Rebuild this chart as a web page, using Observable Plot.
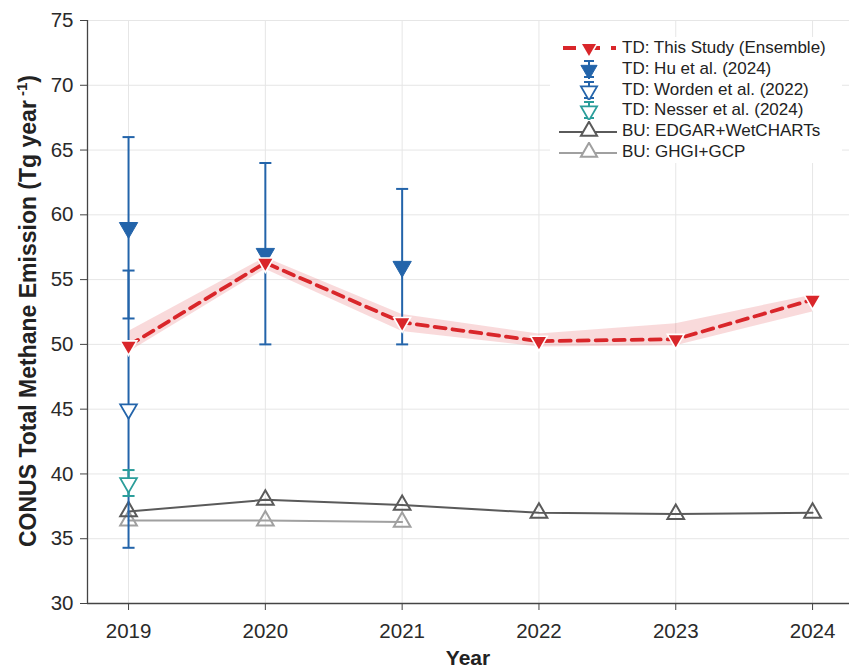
<!DOCTYPE html>
<html>
<head>
<meta charset="utf-8">
<script src="https://cdn.jsdelivr.net/npm/d3@7"></script>
<script src="https://cdn.jsdelivr.net/npm/@observablehq/plot@0.6"></script>
<style>
  body { margin: 0; background: #fff; font-family: "Liberation Sans", Arial, sans-serif; }
  #wrap { position: relative; width: 849px; height: 670px; }
  #legend { position: absolute; left: 550px; top: 37px; width: 292px; background: #fff; padding: 1px 0; }
  .row { display: flex; align-items: center; height: 20.7px; font-size: 17px; color: #222; white-space: nowrap; }
  .row svg { flex: none; margin-right: 0; }
</style>
</head>
<body>
<div id="wrap"><div id="legend"></div></div>
<script>
// ---- data ----
const years = [2019, 2020, 2021, 2022, 2023, 2024];
const tdValues = [49.9, 56.3, 51.7, 50.25, 50.4, 53.45];
const tdLow = [49.4, 55.8, 51.0, 49.8, 49.9, 52.5];
const tdHigh = [51.0, 56.7, 52.3, 50.8, 51.6, 53.8];

const huYears = [2019, 2020, 2021];
const huValues = [59, 57, 56];
const huLow = [52, 50, 50];
const huHigh = [66, 64, 62];

const wordenYears = [2019];
const wordenValues = [45];
const wordenLow = [34.3];
const wordenHigh = [55.7];

const nesserYears = [2019];
const nesserValues = [39.3];
const nesserLow = [38.3];
const nesserHigh = [40.3];

const edgarYears = [2019, 2020, 2021, 2022, 2023, 2024];
const edgarValues = [37.1, 38.0, 37.6, 37.0, 36.9, 37.0];
const ghgiYears = [2019, 2020, 2021];
const ghgiValues = [36.4, 36.4, 36.3];

const yTicks = [30, 35, 40, 45, 50, 55, 60, 65, 70, 75];

const labels = {
  td: "TD: This Study (Ensemble)",
  hu: "TD: Hu et al. (2024)",
  worden: "TD: Worden et al. (2022)",
  nesser: "TD: Nesser et al. (2024)",
  edgar: "BU: EDGAR+WetCHARTs",
  ghgi: "BU: GHGI+GCP"
};

// ---- tables ----
const td = years.map((year, i) => ({year, v: tdValues[i], lo: tdLow[i], hi: tdHigh[i]}));
const mk = (ys, vs, lo, hi) => ys.map((year, i) => ({year, v: vs[i], lo: lo ? lo[i] : null, hi: hi ? hi[i] : null}));
const hu = mk(huYears, huValues, huLow, huHigh);
const worden = mk(wordenYears, wordenValues, wordenLow, wordenHigh);
const nesser = mk(nesserYears, nesserValues, nesserLow, nesserHigh);
const edgar = mk(edgarYears, edgarValues);
const ghgi = mk(ghgiYears, ghgiValues);

const RED = "#d9262a", BLUE = "#2364aa", TEAL = "#2a9d9a", DARK = "#5a5a5a", LIGHT = "#a0a0a0";

const triDown = {
  draw(ctx, size) {
    const y = -Math.sqrt(size / (Math.sqrt(3) * 3));
    ctx.moveTo(0, -2 * y);
    ctx.lineTo(-Math.sqrt(3) * y, y);
    ctx.lineTo(Math.sqrt(3) * y, y);
    ctx.closePath();
  }
};

const capW = 0.044;
function errorBars(data, color) {
  return [
    Plot.ruleX(data, {x: "year", y1: "lo", y2: "hi", stroke: color, strokeWidth: 2}),
    Plot.link(data, {x1: d => d.year - capW, x2: d => d.year + capW, y1: "lo", y2: "lo", stroke: color, strokeWidth: 2}),
    Plot.link(data, {x1: d => d.year - capW, x2: d => d.year + capW, y1: "hi", y2: "hi", stroke: color, strokeWidth: 2})
  ];
}

const chart = Plot.plot({
  width: 849,
  height: 670,
  marginLeft: 87,
  marginRight: 0,
  marginTop: 20,
  marginBottom: 67,
  style: {fontFamily: "'Liberation Sans', Arial, sans-serif", fontSize: "20.5px", color: "#333", background: "#fff"},
  x: {domain: [2018.7, 2024.27], label: null},
  y: {domain: [30, 75], label: null},
  marks: [
    Plot.gridX(years, {stroke: "#e6e6e6", strokeOpacity: 1, strokeWidth: 1}),
    Plot.gridY(yTicks, {stroke: "#e6e6e6", strokeOpacity: 1, strokeWidth: 1}),
    Plot.axisX(years, {tickSize: 7, tickPadding: 13, tickFormat: d => String(d), stroke: "#444", fill: "#2a2a2a", label: null}),
    Plot.axisY(yTicks, {tickSize: 7, tickPadding: 7, stroke: "#444", fill: "#2a2a2a", label: null}),
    Plot.ruleY([30], {stroke: "#444", strokeWidth: 1.3}),
    Plot.ruleX([2018.7], {stroke: "#444", strokeWidth: 1.3}),
    Plot.areaY(td, {x: "year", y1: "lo", y2: "hi", fill: RED, fillOpacity: 0.17}),
    Plot.line(ghgi, {x: "year", y: "v", stroke: LIGHT, strokeWidth: 2}),
    Plot.dot(ghgi, {x: "year", y: "v", symbol: "triangle", r: 6.2, stroke: LIGHT, strokeWidth: 2, fill: "none"}),
    Plot.line(edgar, {x: "year", y: "v", stroke: DARK, strokeWidth: 2}),
    Plot.dot(edgar, {x: "year", y: "v", symbol: "triangle", r: 6.2, stroke: DARK, strokeWidth: 2, fill: "none"}),
    ...errorBars(worden, BLUE),
    ...errorBars(hu, BLUE),
    ...errorBars(nesser, TEAL),
    Plot.dot(hu, {x: "year", y: "v", symbol: triDown, r: 6.8, fill: BLUE, stroke: BLUE, strokeWidth: 1}),
    Plot.dot(worden, {x: "year", y: "v", symbol: triDown, r: 6.2, fill: "white", stroke: BLUE, strokeWidth: 1.8}),
    Plot.dot(nesser, {x: "year", y: "v", symbol: triDown, r: 6.2, fill: "white", stroke: TEAL, strokeWidth: 1.8}),
    Plot.line(td, {x: "year", y: "v", stroke: RED, strokeWidth: 3.8, strokeDasharray: "11,7"}),
    Plot.dot(td, {x: "year", y: "v", symbol: triDown, r: 5.2, fill: RED, stroke: "white", strokeWidth: 3.2, paintOrder: "stroke"})
  ]
});

document.getElementById("wrap").prepend(chart);

// axis titles
const svg = d3.select(chart);
const yl = svg.append("text")
  .attr("transform", "translate(36,311) rotate(-90)")
  .attr("text-anchor", "middle")
  .attr("font-weight", "bold")
  .attr("font-size", "23px")
  .attr("fill", "#222");
yl.append("tspan").text("CONUS Total Methane Emission (Tg year");
yl.append("tspan").attr("dy", "-9").attr("font-size", "15px").text(" -1");
yl.append("tspan").attr("dy", "9").text(")");
svg.append("text")
  .attr("x", 468).attr("y", 665)
  .attr("text-anchor", "middle")
  .attr("font-weight", "bold")
  .attr("font-size", "21px")
  .attr("fill", "#222")
  .text("Year");

// legend
const legendItems = [
  {key: "td", draw: g => {
    g.append("line").attr("x1", 13).attr("x2", 66).attr("y1", 10).attr("y2", 10)
      .attr("stroke", RED).attr("stroke-width", 3.8).attr("stroke-dasharray", "13,11");
    g.append("path").attr("d", d3.symbol(triDown, Math.PI * 5.2 * 5.2)()).attr("transform", "translate(39,10)")
      .attr("fill", RED).attr("stroke", "white").attr("stroke-width", 3.2).attr("paint-order", "stroke");
  }},
  {key: "hu", draw: g => errLeg(g, BLUE, true)},
  {key: "worden", draw: g => errLeg(g, BLUE, false)},
  {key: "nesser", draw: g => errLeg(g, TEAL, false)},
  {key: "edgar", draw: g => buLeg(g, DARK)},
  {key: "ghgi", draw: g => buLeg(g, LIGHT)}
];
function errLeg(g, c, filled) {
  g.append("line").attr("x1", 39).attr("x2", 39).attr("y1", 2).attr("y2", 18).attr("stroke", c).attr("stroke-width", 2);
  g.append("line").attr("x1", 34).attr("x2", 44).attr("y1", 2).attr("y2", 2).attr("stroke", c).attr("stroke-width", 2);
  g.append("line").attr("x1", 34).attr("x2", 44).attr("y1", 18).attr("y2", 18).attr("stroke", c).attr("stroke-width", 2);
  g.append("path").attr("d", d3.symbol(triDown, Math.PI * 6 * 6)()).attr("transform", "translate(39,11)")
    .attr("fill", filled ? c : "white").attr("stroke", c).attr("stroke-width", filled ? 1 : 1.8);
}
function buLeg(g, c) {
  g.append("line").attr("x1", 9).attr("x2", 67).attr("y1", 11).attr("y2", 11).attr("stroke", c).attr("stroke-width", 2);
  g.append("path").attr("d", d3.symbol(d3.symbolTriangle, Math.PI * 6 * 6)()).attr("transform", "translate(39,10)")
    .attr("fill", "white").attr("stroke", c).attr("stroke-width", 2);
}
const leg = d3.select("#legend");
legendItems.forEach(it => {
  const row = leg.append("div").attr("class", "row");
  const s = row.append("svg").attr("width", 72).attr("height", 20);
  it.draw(s.append("g"));
  row.append("span").text(labels[it.key]);
});
</script>
</body>
</html>
